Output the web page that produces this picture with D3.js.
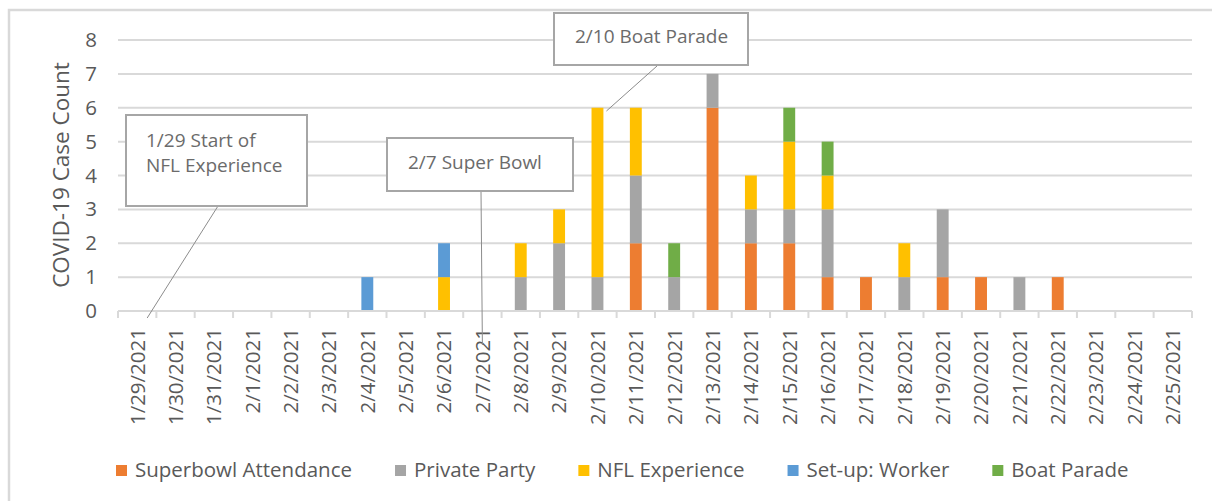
<!DOCTYPE html>
<html>
<head>
<meta charset="utf-8">
<script src="https://cdn.jsdelivr.net/npm/d3@7"></script>
<style>
  body { margin: 0; background: #fff; }
  text { font-family: "Open Sans", sans-serif; fill: #595959; }
</style>
</head>
<body>
<script>
// categories and series
var dates = ["1/29/2021","1/30/2021","1/31/2021","2/1/2021","2/2/2021","2/3/2021","2/4/2021",
  "2/5/2021","2/6/2021","2/7/2021","2/8/2021","2/9/2021","2/10/2021","2/11/2021","2/12/2021",
  "2/13/2021","2/14/2021","2/15/2021","2/16/2021","2/17/2021","2/18/2021","2/19/2021",
  "2/20/2021","2/21/2021","2/22/2021","2/23/2021","2/24/2021","2/25/2021"];
var seriesNames = ["Superbowl Attendance","Private Party","NFL Experience","Set-up: Worker","Boat Parade"];
var superbowl = [0,0,0,0,0,0,0,0,0,0,0,0,0,2,0,6,2,2,1,1,0,1,1,0,1,0,0,0];
var privateParty = [0,0,0,0,0,0,0,0,0,0,1,2,1,2,1,1,1,1,2,0,1,2,0,1,0,0,0,0];
var nflExperience = [0,0,0,0,0,0,0,0,1,0,1,1,5,2,0,0,1,2,1,0,1,0,0,0,0,0,0,0];
var setupWorker = [0,0,0,0,0,0,1,0,1,0,0,0,0,0,0,0,0,0,0,0,0,0,0,0,0,0,0,0];
var boatParade = [0,0,0,0,0,0,0,0,0,0,0,0,0,0,1,0,0,1,1,0,0,0,0,0,0,0,0,0];
var yTicks = [0,1,2,3,4,5,6,7,8];
var colors = ["#ED7D31","#A5A5A5","#FFC000","#5B9BD5","#70AD47"];
var callouts = [
  {lines: ["1/29 Start of", "NFL Experience"], date: "1/29/2021"},
  {lines: ["2/7 Super Bowl"], date: "2/7/2021"},
  {lines: ["2/10 Boat Parade"], date: "2/10/2021"}
];

var W = 1212, H = 501;
var margin = {top: 40, left: 118},
    width = 1192 - margin.left,
    height = 311 - margin.top;

var svg = d3.select("body").append("svg")
    .attr("width", W).attr("height", H);

// outer chart frame
svg.append("rect")
    .attr("x", 9).attr("y", 10)
    .attr("width", W + 20).attr("height", H + 20)
    .attr("fill", "none").attr("stroke", "#d9d9d9").attr("stroke-width", 2.5);

var g = svg.append("g")
    .attr("transform", "translate(" + margin.left + "," + margin.top + ")");

var x = d3.scaleBand().domain(dates).range([0, width])
    .paddingInner(0.69).paddingOuter(0.345);
var y = d3.scaleLinear().domain([0, 8]).range([height, 0]);

// gridlines
g.append("g").selectAll("line").data(yTicks.slice(1)).enter().append("line")
    .attr("x1", 0).attr("x2", width)
    .attr("y1", function(d){ return y(d); }).attr("y2", function(d){ return y(d); })
    .attr("stroke", "#d9d9d9").attr("stroke-width", 2);

// y axis labels
var yAxis = g.append("g")
    .call(d3.axisLeft(y).tickValues(yTicks).tickSize(0).tickPadding(21));
yAxis.select(".domain").remove();
yAxis.selectAll("text").style("font-size", "20.5px").attr("fill", "#595959")
    .style("font-family", "'Open Sans', sans-serif");

// stacked bars
var table = dates.map(function(d, i){
  return {date: d, s0: superbowl[i], s1: privateParty[i], s2: nflExperience[i], s3: setupWorker[i], s4: boatParade[i]};
});
var stack = d3.stack().keys(["s0","s1","s2","s3","s4"])(table);

g.append("g").selectAll("g").data(stack).enter().append("g")
    .attr("fill", function(d, i){ return colors[i]; })
  .selectAll("rect").data(function(d){ return d; }).enter().append("rect")
    .attr("x", function(d){ return x(d.data.date); })
    .attr("width", x.bandwidth())
    .attr("y", function(d){ return y(d[1]); })
    .attr("height", function(d){ return y(d[0]) - y(d[1]); });

// x axis line and ticks between categories
var step = x.step();
g.append("line").attr("x1", 0).attr("x2", width).attr("y1", height).attr("y2", height)
    .attr("stroke", "#d9d9d9").attr("stroke-width", 2);
g.append("g").selectAll("line").data(d3.range(dates.length + 1)).enter().append("line")
    .attr("x1", function(i){ return i * step; }).attr("x2", function(i){ return i * step; })
    .attr("y1", height).attr("y2", height + 7)
    .attr("stroke", "#d9d9d9").attr("stroke-width", 2);

// x labels, rotated
g.append("g").selectAll("text").data(dates).enter().append("text")
    .attr("transform", function(d){
      return "translate(" + (x(d) + x.bandwidth() / 2) + "," + (height + 17) + ") rotate(-90)";
    })
    .attr("text-anchor", "end").attr("dy", "0.36em")
    .style("font-size", "20.5px")
    .text(function(d){ return d; });

// y title
svg.append("text")
    .attr("transform", "translate(69,175) rotate(-90)")
    .attr("text-anchor", "middle")
    .style("font-size", "22.5px")
    .text("COVID-19 Case Count");

// callouts
var boxes = [
  {x: 126, y: 115, w: 181, h: 91, lx1: 218, ly1: 206, ly2: 318, tx: 146, ty: 140, dx: 10},
  {x: 387, y: 138, w: 186, h: 53, lx1: 481, ly1: 191, ly2: 345, tx: 408, ty: 162, dx: 0},
  {x: 554, y: 13, w: 194, h: 52, lx1: 657, ly1: 66, ly2: 111, tx: 575, ty: 36, dx: 9}
];
callouts.forEach(function(c, i){
  var b = boxes[i];
  var ex = margin.left + x(c.date) + x.bandwidth() / 2 + b.dx;
  svg.append("line")
      .attr("x1", b.lx1).attr("y1", b.ly1).attr("x2", ex).attr("y2", b.ly2)
      .attr("stroke", "#8c8c8c").attr("stroke-width", 1);
  svg.append("rect")
      .attr("x", b.x).attr("y", b.y).attr("width", b.w).attr("height", b.h)
      .attr("fill", "#fff").attr("stroke", "#a6a6a6").attr("stroke-width", 2);
  c.lines.forEach(function(t, j){
    svg.append("text")
        .attr("x", b.tx).attr("y", b.ty + j * 25).attr("dy", "0.35em")
        .style("font-size", "19px").style("fill", "#6b6b6b")
        .text(t);
  });
});

// legend
var legend = svg.append("g");
var lx = 116;
seriesNames.forEach(function(name, i){
  legend.append("rect")
      .attr("x", lx).attr("y", 465).attr("width", 11).attr("height", 11)
      .attr("fill", colors[i]);
  var t = legend.append("text")
      .attr("x", lx + 19).attr("y", 470).attr("dy", "0.35em")
      .style("font-size", "20.5px")
      .text(name);
  lx += 19 + t.node().getComputedTextLength() + 43;
});
</script>
</body>
</html>
